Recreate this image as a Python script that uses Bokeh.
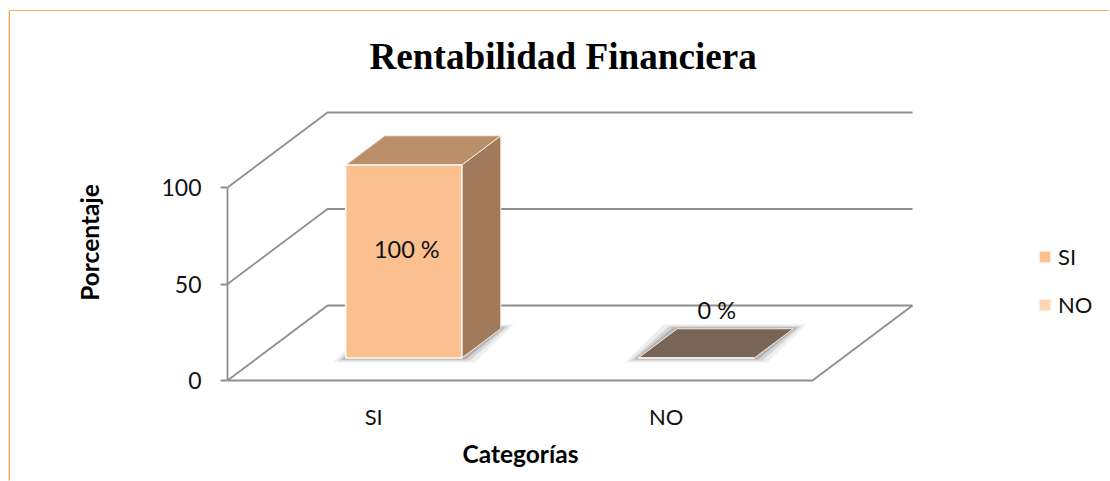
from bokeh.plotting import figure
from bokeh.embed import file_html
from bokeh.resources import INLINE
from bokeh.models import FixedTicker, Legend, LegendItem, Range1d, Title
from bokeh.core.properties import value

titulo = "Rentabilidad Financiera"
categorias = ["SI", "NO"]
valores = [100, 0]
etiquetas = ["100 %", "0 %"]
y_ticks = [0, 50, 100]
eje_y = "Porcentaje"
eje_x = "Categorías"
col_frente = ["#FAC090", "#FCD5B5"]
col_tapa = ["#BC8F6B", "#796555"]
col_lado = "#A07A5A"

GRAY = "#8E8E8E"
FONT = "Lato"
OX, OY = 10, 11            # page position of the figure
L, R, T, B = 227, 1110, 102, 382   # frame, in page pixels
PXU, PYU = 292.5, 1.93
DX, DY = 100 / PXU, 75 / PYU      # oblique depth of the floor
W_BAR, D1, D2 = 0.397, 0.30, 0.69

p = figure(width=1110 - OX, height=481 - OY, output_backend="svg", toolbar_location=None,
           x_range=Range1d(-0.5, -0.5 + (R - L) / PXU),
           y_range=Range1d(-(B - 380) / PYU, (380 - T) / PYU),
           min_border_left=L - OX, min_border_right=1110 - R,
           min_border_top=T - OY, min_border_bottom=481 - B,
           margin=(OY, 0, 0, OX), tools="")
p.styles = {"box-shadow": "-1px -1px 0 #F8A862, -2px 0 0 #FCDCC0"}
p.outline_line_color = None
p.background_fill_color = "white"
p.border_fill_alpha = 0
p.grid.visible = False

# axes
p.title.text = titulo
p.title.text_font = "Liberation Serif"
p.title.text_font_style = "bold"
p.title.text_font_size = "37.2px"
p.title.text_color = "#000000"
p.title.align = "left"
p.title.vertical_align = "top"
p.title.offset = 369 - L
p.title.standoff = 48

ya = p.yaxis[0]
ya.ticker = FixedTicker(ticks=y_ticks)
ya.bounds = (y_ticks[0], y_ticks[-1])
ya.axis_line_color = GRAY
ya.axis_line_width = 1.8
ya.major_tick_line_color = GRAY
ya.major_tick_line_width = 1.8
ya.major_tick_out = 7
ya.major_tick_in = 0
ya.minor_tick_line_color = None
ya.major_label_text_font = FONT
ya.major_label_text_font_size = "23px"
ya.major_label_text_color = "#111111"
ya.major_label_standoff = 19
ya.axis_label = eje_y
ya.axis_label_text_font = FONT
ya.axis_label_text_font_style = "bold"
ya.axis_label_text_font_size = "24.5px"
ya.axis_label_text_color = "#000000"
ya.axis_label_standoff = 54

xa = p.xaxis[0]
xa.ticker = FixedTicker(ticks=list(range(len(categorias))))
xa.major_label_overrides = {i: c for i, c in enumerate(categorias)}
xa.axis_line_color = None
xa.major_tick_line_color = None
xa.minor_tick_line_color = None
xa.major_label_text_font = FONT
xa.major_label_text_font_size = "22px"
xa.major_label_text_color = "#111111"
xa.major_label_standoff = 14

p.add_layout(Title(text=eje_x, align="left", offset=462 - L, standoff=9,
                   text_font=FONT, text_font_style="bold", text_font_size="24.5px",
                   text_color="#000000"), "below")

def px(x, d):
    return x + d * DX

def py(v, d):
    return v + d * DY

# walls and floor
x0, x1 = -0.5, 1.5
for t in y_ticks:
    p.line([px(x0, 0), px(x0, 1), px(x1, 1)], [py(t, 0), py(t, 1), py(t, 1)],
           line_color=GRAY, line_width=1.8)
p.line([px(x0, 0), px(x1, 0), px(x1, 1)], [py(0, 0), py(0, 0), py(0, 1)],
       line_color=GRAY, line_width=1.8)

# bars
front_renderers = []
for i, (v, ct, cf) in enumerate(zip(valores, col_tapa, col_frente)):
    a, b = i - W_BAR / 2, i + W_BAR / 2
    # soft shadow on the floor
    for e, al in ((13 / PXU, 0.10), (8 / PXU, 0.16), (4 / PXU, 0.25)):
        ey = e * PXU / PYU * 0.35
        p.patch([px(a - e, D1) , px(b + e, D1), px(b + e, D2), px(a - e, D2)],
                [py(0, D1) - ey, py(0, D1) - ey, py(0, D2) + ey, py(0, D2) + ey],
                fill_color="#555555", fill_alpha=al, line_color=None)
    if v > 0:
        p.patch([px(b, D1), px(b, D2), px(b, D2), px(b, D1)],
                [py(0, D1), py(0, D2), py(v, D2), py(v, D1)],
                fill_color=col_lado, line_color="#F4ECE4", line_width=1)
    p.patch([px(a, D1), px(b, D1), px(b, D2), px(a, D2)],
            [py(v, D1), py(v, D1), py(v, D2), py(v, D2)],
            fill_color=ct, line_color="#F4ECE4", line_width=1)
    r = p.quad(left=[px(a, D1)], right=[px(b, D1)], bottom=[py(0, D1)], top=[py(v, D1)],
               fill_color=cf, line_color="#FFF8F0", line_width=1.5)
    front_renderers.append(r)

# data labels
p.text([px(0, D1) + 3 / PXU], [py(valores[0] * 0.565, D1)], text=[etiquetas[0]],
       text_font=value(FONT), text_font_size="23.5px", text_color="#111111",
       text_align="center", text_baseline="middle")
p.text([px(1, (D1 + D2) / 2)], [py(valores[1], (D1 + D2) / 2)], text=[etiquetas[1]],
       x_offset=1, y_offset=-33, text_font=value(FONT), text_font_size="23.5px", text_color="#111111",
       text_align="center", text_baseline="middle")

legend = Legend(items=[LegendItem(label=c, renderers=[r]) for c, r in zip(categorias, front_renderers)],
                location=(1037 - L, B - 318), orientation="vertical",
                background_fill_alpha=0, border_line_color=None, padding=0, margin=0,
                glyph_width=15, glyph_height=15, label_height=20, spacing=21,
                label_standoff=6, label_text_font=FONT, label_text_font_size="22px",
                label_text_color="#111111")
p.add_layout(legend, "center")

open("out.html", "w").write(file_html(p, INLINE))
